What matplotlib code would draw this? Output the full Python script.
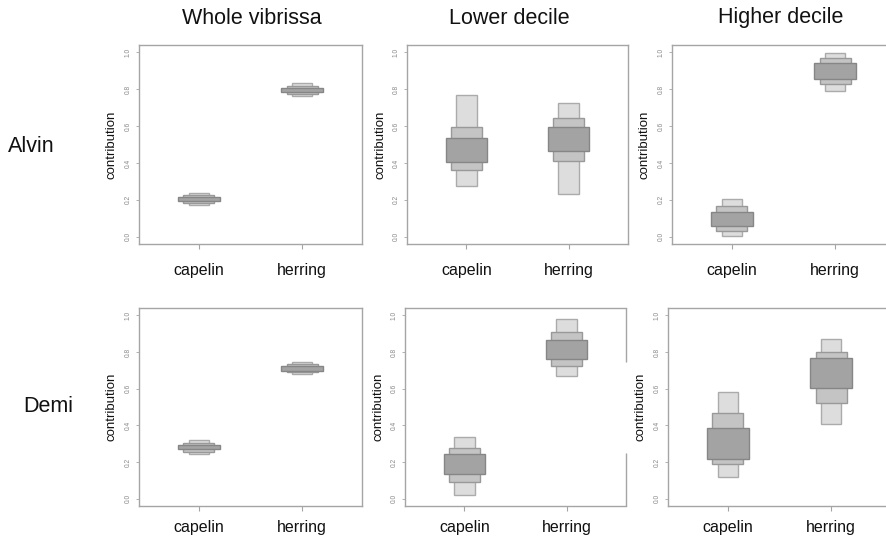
import matplotlib
matplotlib.use("Agg")
import matplotlib.pyplot as plt
import numpy as np

plt.rcParams['font.family'] = ['Liberation Sans', 'DejaVu Sans']

# ---------------- data ----------------
categories = ["capelin", "herring"]
row_labels = ["Alvin", "Demi"]
col_titles = ["Whole vibrissa", "Lower decile", "Higher decile"]
interval_levels = ["95%", "75%", "50%"]
y_ticks = [0.0, 0.2, 0.4, 0.6, 0.8, 1.0]
y_tick_labels = ["0.0", "0.2", "0.4", "0.6", "0.8", "1.0"]

# lower / upper bounds of credible intervals: rows = 95%, 75%, 50%; cols = capelin, herring
alvin_whole_lo = [[0.172, 0.763], [0.183, 0.774], [0.192, 0.783]]
alvin_whole_hi = [[0.236, 0.834], [0.224, 0.816], [0.213, 0.808]]

alvin_lower_lo = [[0.277, 0.231], [0.359, 0.410], [0.404, 0.464]]
alvin_lower_hi = [[0.769, 0.727], [0.594, 0.645], [0.537, 0.596]]

alvin_higher_lo = [[0.005, 0.793], [0.029, 0.831], [0.056, 0.858]]
alvin_higher_hi = [[0.204, 0.996], [0.164, 0.967], [0.136, 0.942]]

demi_whole_lo = [[0.243, 0.678], [0.257, 0.690], [0.270, 0.699]]
demi_whole_hi = [[0.319, 0.746], [0.303, 0.734], [0.295, 0.726]]

demi_lower_lo = [[0.018, 0.667], [0.091, 0.722], [0.135, 0.762]]
demi_lower_hi = [[0.335, 0.982], [0.276, 0.909], [0.244, 0.867]]

demi_higher_lo = [[0.119, 0.409], [0.190, 0.522], [0.219, 0.606]]
demi_higher_hi = [[0.580, 0.870], [0.465, 0.801], [0.385, 0.770]]

panels = [
    [(alvin_whole_lo, alvin_whole_hi), (alvin_lower_lo, alvin_lower_hi), (alvin_higher_lo, alvin_higher_hi)],
    [(demi_whole_lo, demi_whole_hi), (demi_lower_lo, demi_lower_hi), (demi_higher_lo, demi_higher_hi)],
]

# ---------------- style ----------------
box_widths = [0.2, 0.3, 0.4]
face_colors = ["#dddddd", "#c4c4c4", "#a3a3a3"]
edge_colors = ["#ababab", "#999999", "#868686"]
frame_color = "#a5a5a5"

W, H = 886, 537
fig = plt.figure(figsize=(W / 100, H / 100), dpi=100)

row_px = [(45, 244), (308, 506)]          # (top, bottom) in pixels
col_px = [[(139, 362), (407, 628), (672, 895)],
          [(139, 362), (405, 626), (668, 891)]]
xlabel_pad = [10, 6.5]

for r in range(2):
    top, bot = row_px[r]
    for c in range(3):
        left, right = col_px[r][c]
        ax = fig.add_axes([left / W, 1 - bot / H, (right - left) / W, (bot - top) / H])
        lo_all, hi_all = panels[r][c]
        x = np.arange(1, len(categories) + 1)
        for k in range(3):
            lo = np.array(lo_all[k])
            hi = np.array(hi_all[k])
            ax.bar(x, hi - lo, bottom=lo, width=box_widths[k],
                   color=face_colors[k], edgecolor=edge_colors[k], linewidth=1.0, zorder=2 + k)
        ax.set_xlim(0.42, 2.58)
        ax.set_ylim(-0.04, 1.04)
        ax.set_xticks(x)
        ax.set_xticklabels(categories, fontsize=11.5, color="#111111")
        ax.set_yticks(y_ticks)
        ax.set_yticklabels(y_tick_labels, fontsize=4.8, color="#888888", rotation=90, va="center")
        ax.tick_params(axis="x", length=3.5, width=0.8, color=frame_color, pad=xlabel_pad[r])
        ax.tick_params(axis="y", length=2.5, width=0.6, color=frame_color, pad=3)
        for s in ax.spines.values():
            s.set_color(frame_color)
            s.set_linewidth(1.0)
        ax.set_ylabel("contribution", fontsize=9.5, color="#111111")
        ax.yaxis.set_label_coords(-0.095, 0.5)
        if r == 1 and c == 1:
            # right border partially missing in the reference
            ax.spines["right"].set_visible(False)
            for seg in [(0.0, 0.268), (0.727, 1.0)]:
                ax.plot([1, 1], seg, transform=ax.transAxes, color=frame_color,
                        linewidth=1.0, clip_on=False, solid_capstyle="butt")

# column titles
title_pos = [(252, 19), (509, 19), (781, 18)]
for t, (px, py) in zip(col_titles, title_pos):
    fig.text(px / W, 1 - py / H, t, ha="center", va="center", fontsize=15.5, color="#111111")

# row labels
row_pos = [(31, 147), (48, 407)]
for t, (px, py) in zip(row_labels, row_pos):
    fig.text(px / W, 1 - py / H, t, ha="center", va="center", fontsize=15.5, color="#111111")

fig.savefig("out.png", dpi=100)
